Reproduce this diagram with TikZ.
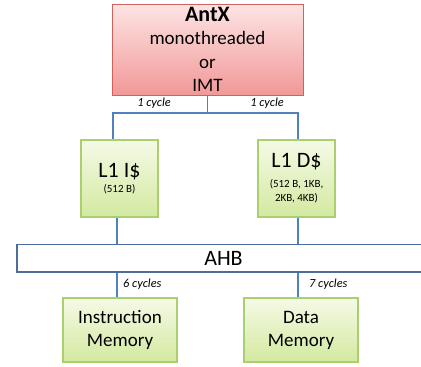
\documentclass[tikz,border=0pt]{standalone}
\usepackage{fontspec}
\setmainfont{Carlito}
\usepackage{tikz}
\usetikzlibrary{positioning}

\definecolor{antxtop}{HTML}{FDE4E4}
\definecolor{antxbot}{HTML}{F29898}
\definecolor{antxline}{HTML}{D4605C}
\definecolor{cachetop}{HTML}{F5FAE6}
\definecolor{cachebot}{HTML}{D3E9A0}
\definecolor{cacheline}{HTML}{A9CF6E}
\definecolor{wire}{HTML}{4F81BD}
\definecolor{busline}{HTML}{4A6F9C}

\tikzset{
  cpubox/.style={draw=antxline,line width=1pt,top color=antxtop,bottom color=antxbot,
    minimum width=191pt,minimum height=91pt,inner sep=0pt,align=center,
    font=\fontsize{19}{23.5}\selectfont},
  greenbox/.style={draw=cacheline,line width=1.2pt,top color=cachetop,bottom color=cachebot,
    inner sep=0pt,align=center,font=\fontsize{19}{23}\selectfont},
  busbox/.style={draw=busline,line width=1.2pt,fill=white,minimum width=413pt,
    minimum height=27.5pt,inner sep=0pt,font=\fontsize{22}{24}\selectfont},
  lat/.style={font=\fontsize{12.3}{14}\selectfont\itshape,inner sep=0pt},
  wireline/.style={draw=wire,line width=1.4pt}
}

\begin{document}
\begin{tikzpicture}[x=1pt,y=-1pt]
\useasboundingbox (0,0) rectangle (421,367);
% processor
\node[cpubox] (antx) at (207.5,49.5)
  {{\fontsize{22}{24}\selectfont\bfseries AntX}\\monothreaded\\or\\IMT};
% caches
\node[greenbox,minimum width=77pt,minimum height=77pt] (l1i) at (119.5,178.5)
  {\raisebox{-4pt}{\fontsize{22}{24}\selectfont L1 I\$}\\[-4pt]{\fontsize{11}{14.5}\selectfont (512 B)}};
\node[greenbox,minimum width=77pt,minimum height=77pt] (l1d) at (296.5,178.5)
  {{\fontsize{22}{24}\selectfont L1 D\$}\\[-3pt]{\fontsize{11}{14.5}\selectfont (512 B, 1KB,}\\[-9pt]{\fontsize{11}{14.5}\selectfont 2KB, 4KB)}};
% bus
\node[busbox] (ahb) at (223.5,258.25) {AHB};
% memories
\node[greenbox,minimum width=114pt,minimum height=64pt] (imem) at (120,330) {Instruction\\Memory};
\node[greenbox,minimum width=114pt,minimum height=64pt] (dmem) at (301,330) {Data\\Memory};

% wires
\coordinate (ijoin) at (113,113);
\coordinate (djoin) at (298,113);
\draw[wireline] (antx.south) |- (ijoin) -- (ijoin |- l1i.north);
\draw[wireline] (antx.south) |- (djoin) -- (djoin |- l1d.north);
\draw[wireline] ([xshift=-2.5pt]l1i.south) -- ([xshift=-2.5pt]l1i.south |- ahb.north);
\draw[wireline] ([xshift=1.5pt]l1d.south) -- ([xshift=1.5pt]l1d.south |- ahb.north);
\draw[wireline] ([xshift=-3pt]imem.north |- ahb.south) -- ([xshift=-3pt]imem.north);
\draw[wireline] ([xshift=-3pt]dmem.north |- ahb.south) -- ([xshift=-3pt]dmem.north);

% latencies
\node[lat] (icycle) at (154,103) {1 cycle};
\node[lat] (dcycle) at (267,103) {1 cycle};
\node[lat,anchor=west] (imcycle) at (123,284) {6 cycles};
\node[lat,anchor=west] (dmcycle) at (309,284) {7 cycles};
\end{tikzpicture}
\end{document}
